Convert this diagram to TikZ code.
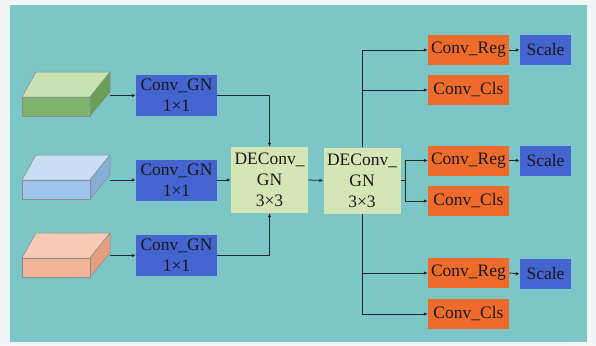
\documentclass[tikz,border=0pt]{standalone}
\usepackage{fontspec}
\setmainfont{Liberation Serif}
\usetikzlibrary{arrows.meta,calc}
\definecolor{bgwhite}{HTML}{F2F5F5}
\definecolor{panel}{HTML}{7DC6C8}
\definecolor{gnblue}{HTML}{4464CF}
\definecolor{headorg}{HTML}{EE6B2C}
\definecolor{deyel}{HTML}{D5E6B6}
\definecolor{gfront}{HTML}{7DB46A}
\definecolor{gtop}{HTML}{C9E2B2}
\definecolor{gside}{HTML}{6A9F58}
\definecolor{bfront}{HTML}{9DC4EA}
\definecolor{btop}{HTML}{C8DEF4}
\definecolor{bside}{HTML}{86AED6}
\definecolor{ofront}{HTML}{F3B59A}
\definecolor{otop}{HTML}{F7CBB3}
\definecolor{oside}{HTML}{E59E80}
\begin{document}
\begin{tikzpicture}[x=1pt,y=-1pt,
  box/.style={draw=none, inner sep=0pt, align=center, text=black!90,
    font=\fontsize{17.5}{21}\selectfont},
  gn/.style={box, fill=gnblue, minimum width=81pt, minimum height=41pt},
  de/.style={box, fill=deyel, minimum width=77pt, minimum height=66pt},
  head/.style={box, fill=headorg, minimum width=81pt, minimum height=30pt},
  scl/.style={box, fill=gnblue, minimum width=51pt, minimum height=30pt},
  arr/.style={-{Latex[length=4pt,width=3.5pt]}, line width=0.8pt, black!85},
  ln/.style={line width=0.8pt, black!85},
  face/.style={draw=black!45, line width=0.5pt}]
\useasboundingbox (0,0) rectangle (596,345);
\fill[bgwhite] (0,0) rectangle (596,345);
\fill[panel] (10,5) rectangle (587,342);

% cuboids
\foreach \yt/\fr/\tp/\sd in {72/gfront/gtop/gside, 155/bfront/btop/bside, 233/ofront/otop/oside}{
  \filldraw[face, fill=\tp] (22,\yt+25) -- (36,\yt) -- (110,\yt) -- (90,\yt+25) -- cycle;
  \filldraw[face, fill=\sd] (90,\yt+25) -- (110,\yt) -- (110,\yt+20) -- (90,\yt+44) -- cycle;
  \filldraw[face, fill=\fr] (22,\yt+25) rectangle (90,\yt+44);
}
\coordinate (c1) at (110,95.5);
\coordinate (c2) at (110,180);
\coordinate (c3) at (110,255.5);

\node[gn] (gn1) at (176.5,95.5) {Conv\_GN\\1×1};
\node[gn] (gn2) at (176.5,180) {Conv\_GN\\1×1};
\node[gn] (gn3) at (176.5,255.5) {Conv\_GN\\1×1};

\node[de] (de1) at (269.5,180) {DEConv\_\\GN\\3×3};
\node[de] (de2) at (362,180.5) {DEConv\_\\GN\\3×3};

\node[head] (reg1) at (468.5,50) {Conv\_Reg};
\node[head] (cls1) at (468.5,90) {Conv\_Cls};
\node[head] (reg2) at (468.5,160.5) {Conv\_Reg};
\node[head] (cls2) at (468.5,201) {Conv\_Cls};
\node[head] (reg3) at (468.5,273) {Conv\_Reg};
\node[head] (cls3) at (468.5,314) {Conv\_Cls};

\node[scl] (s1) at (545.5,50) {Scale};
\node[scl] (s2) at (545.5,160.5) {Scale};
\node[scl] (s3) at (545.5,274) {Scale};

\draw[arr] (c1) -- (gn1.west);
\draw[arr] (c2) -- (gn2.west);
\draw[arr] (c3) -- (gn3.west);

\draw[arr] (gn1.east) -| (de1.north);
\draw[arr] (gn2.east) -- (de1.west);
\draw[arr] (gn3.east) -| (de1.south);

\draw[arr] (de1.east) -- (de2.west);

\draw[arr] (de2.north) |- (reg1.west);
\draw[arr] (de2.north) |- (cls1.west);
\coordinate (m) at ($(de2.east)+(5,0)$);
\draw[ln] (de2.east) -- (m);
\draw[arr] (m) |- (reg2.west);
\draw[arr] (m) |- (cls2.west);
\draw[arr] (de2.south) |- (reg3.west);
\draw[arr] (de2.south) |- (cls3.west);

\draw[arr] (reg1.east) -- (s1.west);
\draw[arr] (reg2.east) -- (s2.west);
\draw[arr] (reg3.east) -- (s3.west);
\end{tikzpicture}
\end{document}
